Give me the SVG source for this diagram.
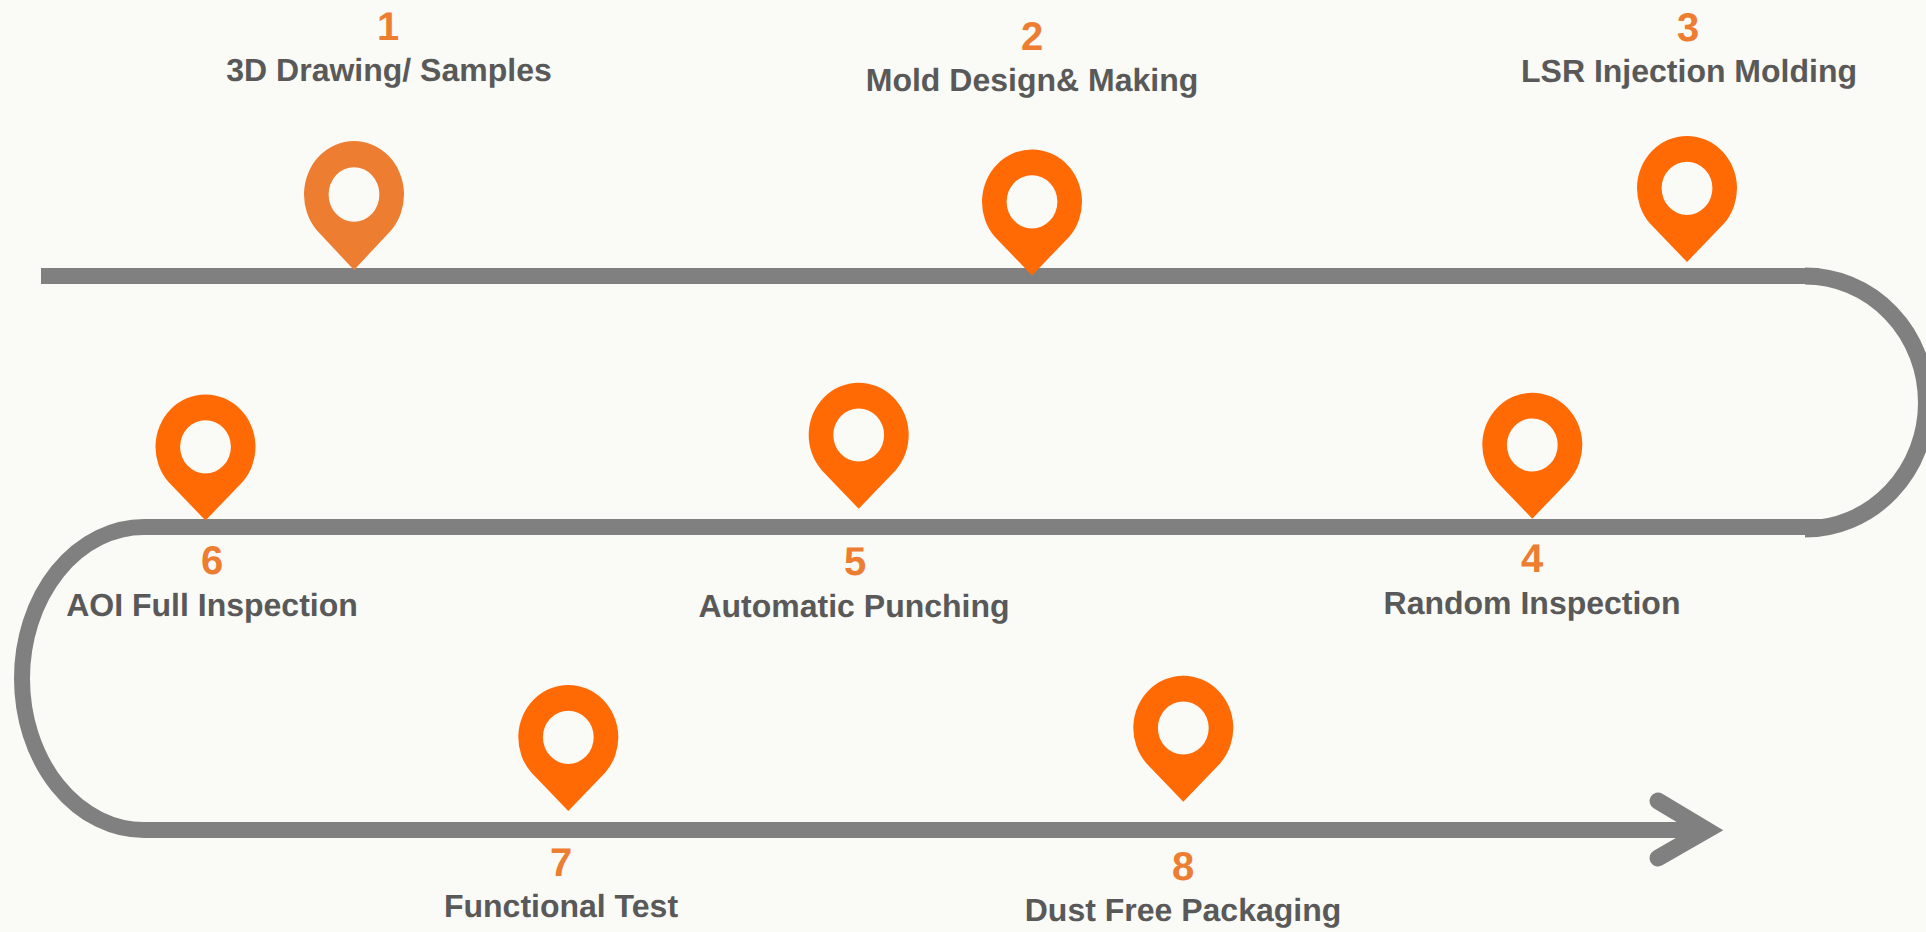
<svg xmlns="http://www.w3.org/2000/svg" width="1926" height="932" viewBox="0 0 1926 932">
<style>
text{text-rendering:geometricPrecision;text-anchor:middle;font-family:"Liberation Sans",Arial,sans-serif;font-weight:bold}
.pin{fill:#ff6a05;fill-rule:evenodd}
.pin1{fill:#ed7d31;fill-rule:evenodd}
.n{font-size:40px;fill:#ed7d31}
.t{font-size:32px;fill:#595959}
.c{fill:none;stroke:#808080;stroke-width:16}
</style>
<defs>
<path id="p" d="M0 0L-37 -38.5A50 52.3 0 1 1 37 -38.5ZM0 -100.3A25.4 26.6 0 1 0 0 -47.1A25.4 26.6 0 1 0 0 -100.3Z"/>
</defs>
<rect width="1926" height="932" fill="#fafaf6"/>
<g id="connectors">
<path class="c" d="M41 276H1819"/>
<path class="c" style="stroke-width:17" d="M1805 276A121.500 126.500 0 0 1 1805 529"/>
<path class="c" d="M1825 527H144"/>
<path class="c" d="M144 527A122 151.500 0 0 0 144 830"/>
<path class="c" d="M144 830H1710"/>
<path class="c" style="stroke-width:17" stroke-linecap="round" d="M1658 801L1706.500 830L1658 858"/>
</g>
<g id="node1"><use href="#p" class="pin1" transform="translate(354 270) scale(1 1.024)"/><text class="n" x="388" y="40">1</text><text class="t" x="389" y="81">3D Drawing/ Samples</text></g>
<g id="node2"><use href="#p" class="pin" transform="translate(1032 275.500)"/><text class="n" x="1032" y="50">2</text><text class="t" x="1032" y="91">Mold Design&amp; Making</text></g>
<g id="node3"><use href="#p" class="pin" transform="translate(1687 262)"/><text class="n" x="1688" y="41">3</text><text class="t" x="1689" y="82">LSR Injection Molding</text></g>
<g id="node4"><use href="#p" class="pin" transform="translate(1532.300 518.700)"/><text class="n" x="1532" y="572">4</text><text class="t" x="1532" y="614">Random Inspection</text></g>
<g id="node5"><use href="#p" class="pin" transform="translate(858.700 508.700)"/><text class="n" x="855" y="575">5</text><text class="t" x="854" y="617">Automatic Punching</text></g>
<g id="node6"><use href="#p" class="pin" transform="translate(205.500 520.500)"/><text class="n" x="212" y="574">6</text><text class="t" x="212" y="616">AOI Full Inspection</text></g>
<g id="node7"><use href="#p" class="pin" transform="translate(568.300 811)"/><text class="n" x="561" y="876">7</text><text class="t" x="561" y="917">Functional Test</text></g>
<g id="node8"><use href="#p" class="pin" transform="translate(1183.300 801.700)"/><text class="n" x="1183" y="880">8</text><text class="t" x="1183" y="921">Dust Free Packaging</text></g>
</svg>
